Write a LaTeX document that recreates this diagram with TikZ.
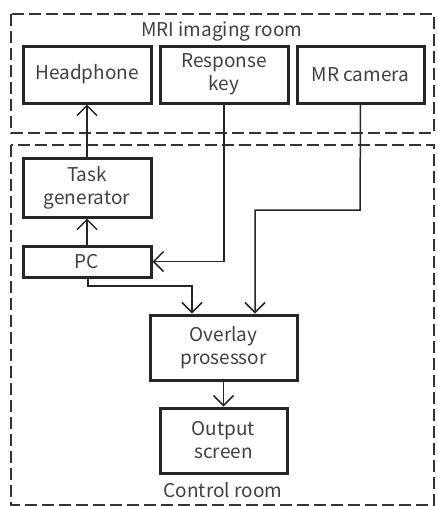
\documentclass[tikz,border=0pt]{standalone}
\usepackage{fontspec}
\setmainfont{Noto Sans CJK JP}
\usetikzlibrary{arrows.meta}
\begin{document}
\begin{tikzpicture}[x=1pt,y=-1pt,
  room/.style={draw=black!80,line width=2pt,dash pattern=on 12pt off 5pt},
  unit/.style={draw=black!85,line width=3pt,inner sep=0pt,align=center,font=\fontsize{19}{23}\selectfont,text=black!75},
  conn/.style={draw=black!85,line width=1.5pt,-{Straight Barb[length=10pt,width=20pt,line width=1.5pt]}},
  lbl/.style={font=\fontsize{19}{22}\selectfont,text=black!75}]
\useasboundingbox (0,0) rectangle (437,506);
% rooms
\draw[room] (11,14) rectangle (434,133);
\draw[room] (11,145) rectangle (434,505);
\node[lbl] (mri) at (222,32) {MRI imaging room};
\node[lbl] (ctrl) at (223,490) {Control room};
% units
\node[unit,minimum width=128pt,minimum height=57pt] (head) at (87,74.5) {Headphone};
\node[unit,minimum width=128pt,minimum height=57pt] (resp) at (224,74.5) {Response\\key};
\node[unit,minimum width=127pt,minimum height=57pt] (cam) at (360.5,74.5) {MR camera};
\node[unit,minimum width=128pt,minimum height=59pt] (task) at (87,187.5) {Task\\generator};
\node[unit,minimum width=128pt,minimum height=31pt] (pc) at (87,261.5) {PC};
\node[unit,minimum width=147pt,minimum height=65pt] (ovl) at (223.5,347.5) {Overlay\\prosessor};
\node[unit,minimum width=127pt,minimum height=65pt] (out) at (223.5,440.5) {Output\\screen};
% connectors
\coordinate (camturn) at (360,210);
\coordinate (camx) at (255,0);
\coordinate (pcx) at (192,0);
\coordinate (pcturn) at (88,286);
\draw[conn] (task.north) -- (head.south);
\draw[conn] (pc.north) -- (task.south);
\draw[conn] (resp.south) |- (pc.east);
\draw[conn] (cam.south) -- (camturn) -| (ovl.north -| camx);
\draw[conn] (pc.south -| pcturn) -- (pcturn) -| (ovl.north -| pcx);
\draw[conn] (ovl.south) -- (out.north);
\end{tikzpicture}
\end{document}
